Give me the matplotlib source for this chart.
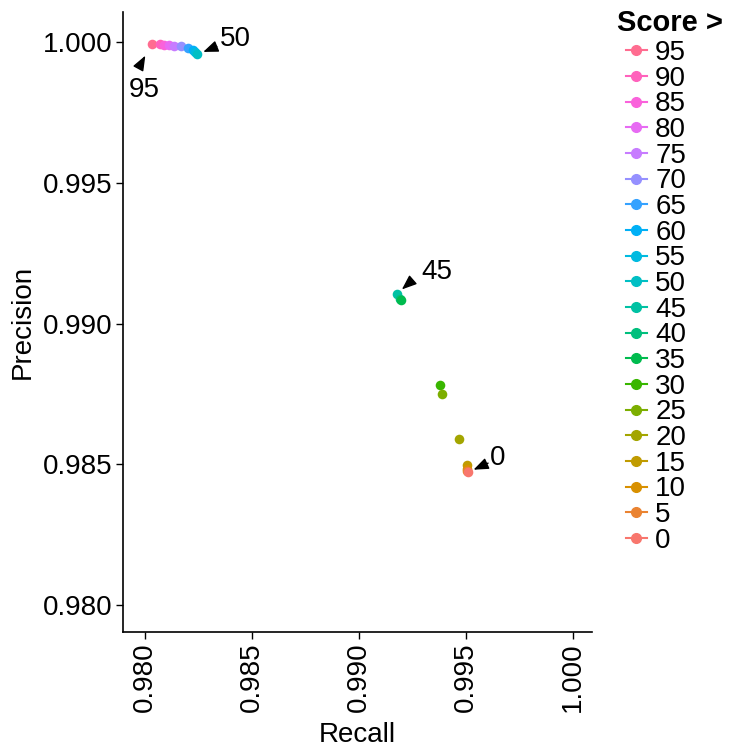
import matplotlib
matplotlib.use("Agg")
import matplotlib.pyplot as plt
from matplotlib.lines import Line2D

plt.rcParams['font.family'] = ['Liberation Sans', 'DejaVu Sans']

# precision / recall at each score threshold
scores = [0, 5, 10, 15, 20, 25, 30, 35, 40, 45,
          50, 55, 60, 65, 70, 75, 80, 85, 90, 95]
recall = [0.99510, 0.99507, 0.99505, 0.99504, 0.99466, 0.99386, 0.99377, 0.99195, 0.99194, 0.99176,
          0.98242, 0.98234, 0.98223, 0.98203, 0.98169, 0.98137, 0.98112, 0.98087, 0.98070, 0.98031]
precision = [0.98472, 0.98475, 0.98485, 0.98497, 0.98590, 0.98750, 0.98782, 0.99082, 0.99087, 0.99105,
             0.99956, 0.99964, 0.99972, 0.99980, 0.99985, 0.99986, 0.99989, 0.99991, 0.99992, 0.99993]

# ggplot-style hue palette, one colour per threshold (0 -> 95)
palette = ["#F8766D", "#EA8331", "#D89000", "#C09B00", "#A3A500", "#7CAE00", "#39B600",
           "#00BB4E", "#00BF7D", "#00C1A3", "#00BFC4", "#00BAE0", "#00B0F6", "#35A2FF",
           "#9590FF", "#C77CFF", "#E76BF3", "#FA62DB", "#FF62BC", "#FF6C90"]

xticks = [0.980, 0.985, 0.990, 0.995, 1.000]
yticks = [0.980, 0.985, 0.990, 0.995, 1.000]

# labelled thresholds: (score, text offset, arrow tail offset, arrow gap) in points
callouts = [(95, (-5, -33), (-8.6, -15.8), 9.5),
            (50, (28, 11.5), (14.4, 5.8), 5),
            (45, (29, 16), (10.8, 9.4), 5),
            (0, (21, 10), (14.4, 6.5), 4.3)]

fig = plt.figure(figsize=(7.35, 7.5), dpi=100)
ax = fig.add_axes([0.1673, 0.1573, 0.8054 - 0.1673, 0.984 - 0.1573])

for i in reversed(range(len(scores))):
    ax.scatter(recall[i], precision[i], s=48, color=palette[i], linewidths=0, zorder=3)

for sc, txt_off, tail_off, gap in callouts:
    i = scores.index(sc)
    pt = (recall[i], precision[i])
    ax.annotate('', xy=pt, xytext=tail_off, textcoords='offset points',
                arrowprops=dict(arrowstyle='-|>,head_length=0.9,head_width=0.35',
                                color='black', lw=1, shrinkA=0, shrinkB=gap))
    ax.annotate(str(sc), xy=pt, xytext=txt_off, textcoords='offset points',
                ha='center', va='center', fontsize=20)

ax.set_xlim(0.97897, 1.00089)
ax.set_ylim(0.97904, 1.00107)
ax.set_xticks(xticks)
ax.set_yticks(yticks)
ax.set_xticklabels([f"{v:.3f}" for v in xticks], rotation=90)
ax.set_yticklabels([f"{v:.3f}" for v in yticks])
ax.tick_params(labelsize=20, length=5, width=1, color='black', labelcolor='black', pad=2.5)
for side in ['top', 'right']:
    ax.spines[side].set_visible(False)
for side in ['left', 'bottom']:
    ax.spines[side].set_linewidth(1.2)
ax.set_xlabel("Recall", fontsize=20, labelpad=7)
ax.set_ylabel("Precision", fontsize=20, labelpad=5)

# legend: title placed on its own so the keys sit slightly indented
fig.text(617 / 735, 1 - 23 / 750, "Score >", fontsize=21, fontweight='bold',
         ha='left', va='center')
handles = [Line2D([], [], color=palette[i], marker='o', markersize=7, lw=1.5)
           for i in reversed(range(len(scores)))]
labels = [str(scores[i]) for i in reversed(range(len(scores)))]
fig.legend(handles, labels, loc='upper left', bbox_to_anchor=(626 / 735, 1 - 40 / 750),
           frameon=False, fontsize=20, handlelength=0.75, handletextpad=0.3,
           labelspacing=-0.012, borderpad=0, borderaxespad=0)

fig.savefig("out.png", dpi=100)
